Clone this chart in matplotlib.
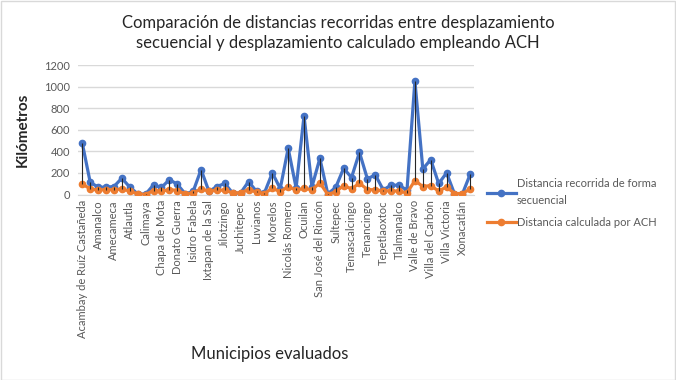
import matplotlib
matplotlib.use("Agg")
import matplotlib.pyplot as plt
import numpy as np

plt.rcParams['font.family'] = ['Lato', 'DejaVu Sans']

# 50 municipios; only every other one carries a tick label
labels = ["Acambay de Ruíz Castañeda", "Amanalco", "Amecameca", "Atlautla",
          "Calimaya", "Chapa de Mota", "Donato Guerra", "Isidro Fabela",
          "Ixtapan de la Sal", "Jilotzingo", "Juchitepec", "Luvianos",
          "Morelos", "Nicolás Romero", "Ocuilan", "San José del Rincón",
          "Sultepec", "Temascalcingo", "Tenancingo", "Tepetlaoxtoc",
          "Tlalmanalco", "Valle de Bravo", "Villa del Carbón",
          "Villa Victoria", "Xonacatlán"]

secuencial = [477, 114, 68, 68, 74, 151, 68, 6, 3, 89,
              65, 138, 95, 6, 28, 231, 28, 74, 102, 12,
              15, 120, 28, 15, 200, 55, 428, 62, 729, 71,
              335, 6, 65, 243, 157, 391, 145, 182, 43, 86,
              86, 40, 1052, 237, 323, 102, 200, 6, 6, 191]

ach = [98, 52, 40, 46, 43, 52, 31, 6, 0, 37,
       31, 46, 37, 6, 15, 52, 31, 40, 40, 15,
       15, 46, 22, 9, 58, 25, 74, 40, 58, 43,
       108, 0, 25, 83, 52, 105, 46, 43, 34, 34,
       31, 15, 129, 74, 83, 31, 71, 9, 9, 52]

BLUE = "#4472C4"
ORANGE = "#ED7D31"
TXT = "#595959"

x = np.arange(len(secuencial))

fig = plt.figure(figsize=(6.76, 3.80), dpi=100)
fig.patches.append(plt.Rectangle((0.001, 0.001), 0.997, 0.997, transform=fig.transFigure,
                                 fill=False, edgecolor="#D9D9D9", lw=1))
ax = fig.add_axes([78.3 / 676, 1 - 194.5 / 380, 396 / 676, 129.5 / 380])

ax.plot(x, secuencial, color=BLUE, lw=2.3, marker="o", ms=4.5, zorder=3,
        label="Distancia recorrida de forma\nsecuencial")
ax.plot(x, ach, color=ORANGE, lw=2.3, marker="o", ms=4.5, zorder=3,
        label="Distancia calculada por ACH")
# high-low lines between the two series
ax.vlines(x, ach, secuencial, color="#262626", lw=0.8, zorder=4)

ax.set_xlim(-0.5, len(x) - 0.5)
ax.set_ylim(0, 1200)
ax.set_yticks(range(0, 1201, 200))
ax.set_xticks(x[::2])
ax.set_xticklabels(labels, rotation=90, fontsize=8, color=TXT)
ax.tick_params(axis="y", labelsize=8, labelcolor=TXT, length=0, pad=6)
ax.tick_params(axis="x", length=0, pad=4)
ax.grid(axis="y", color="#D9D9D9", lw=1)
ax.set_axisbelow(True)
for s in ["top", "right", "left"]:
    ax.spines[s].set_visible(False)
ax.spines["bottom"].set_color("#D9D9D9")

ax.set_ylabel("Kilómetros", fontsize=11, fontweight="bold", color="#262626", labelpad=10)
fig.text(270 / 676, 1 - 354 / 380, "Municipios evaluados", fontsize=12,
         color="#262626", ha="center", va="center")
fig.text(338 / 676, 1 - 33 / 380,
         "Comparación de distancias recorridas entre desplazamiento\n"
         "secuencial y desplazamiento calculado empleando ACH",
         fontsize=12, color="#262626", ha="center", va="center", linespacing=1.35)

leg = fig.legend(loc="center left", bbox_to_anchor=(477 / 676, 1 - 203 / 380),
                 frameon=False, fontsize=8, handlelength=2.6, handletextpad=0.1,
                 labelspacing=1.0)
for t in leg.get_texts():
    t.set_color(TXT)
    t.set_linespacing(1.6)

fig.savefig("out.png", dpi=100)
